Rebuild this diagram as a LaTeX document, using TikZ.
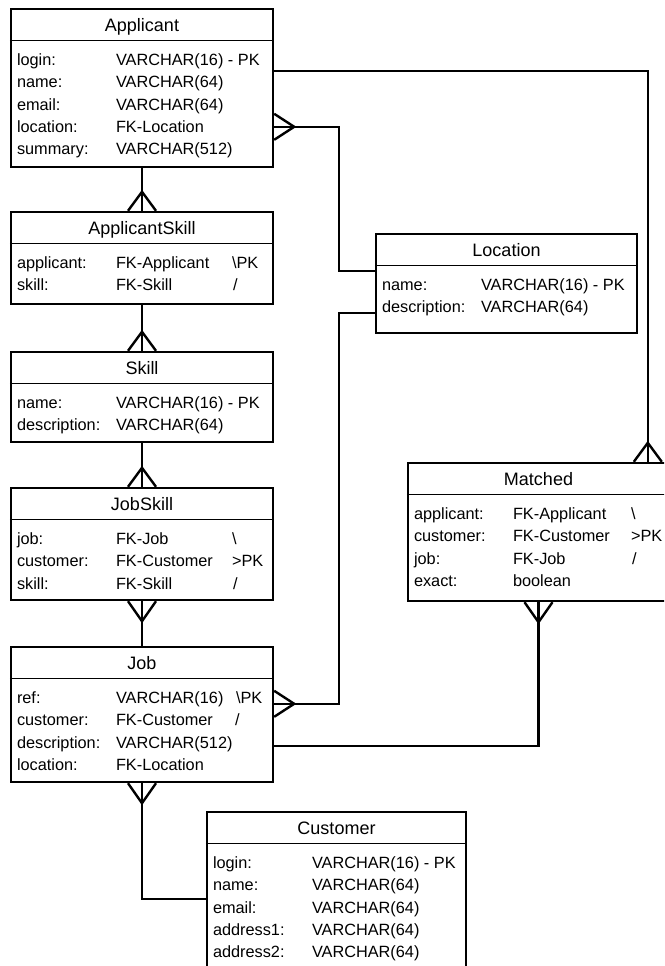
\documentclass[tikz,border=0pt]{standalone}
\usepackage{fontspec}
\setmainfont{Liberation Sans}
\usetikzlibrary{calc}

% one field row: box, row number, name, type, key column (offset of key column)
\newcommand\fld[6]{%
  \node[fieldtxt] (#1-#2a) at ($(#1.north west)+(7,{57.5+22.4*(#2-1)})$) {#3};
  \node[fieldtxt] (#1-#2b) at ($(#1.north west)+(106,{57.5+22.4*(#2-1)})$) {#4};
  \node[fieldtxt] (#1-#2c) at ($(#1.north west)+(#6,{57.5+22.4*(#2-1)})$) {#5};
}
% table frame with title and header rule
\newcommand\tbl[6]{%
  \node[table, minimum width=#4, minimum height=#5] (#1) at (#2,#3) {};
  \draw[rule] ($(#1.north west)+(0,33)$) -- ($(#1.north east)+(0,33)$);
  \node[titletxt] (#1-title) at ($(#1.north)+(0,23.5)$) {#6};
}

\tikzset{
  table/.style={draw, line width=2.4pt, inner sep=0pt, fill=white},
  rule/.style={line width=1pt},
  conn/.style={line width=2.4pt},
  fieldtxt/.style={anchor=base west, inner sep=0pt, font=\fontsize{16.3}{20}\selectfont},
  titletxt/.style={anchor=base, inner sep=0pt, font=\fontsize{18}{22}\selectfont},
  crowup/.pic={\draw[conn] (-14,0) -- (0,-19) -- (14,0);},
  crowdown/.pic={\draw[conn] (-14,0) -- (0,20) -- (14,0);},
  crowright/.pic={\draw[conn] (0,-13) -- (20,0) -- (0,13);},
}

\begin{document}
\begin{tikzpicture}[x=1pt,y=-1pt]
\useasboundingbox (0,0) rectangle (664,966);
\clip (0,0) rectangle (664,966);
\fill[white] (0,0) rectangle (664,966);

% ---- tables ----
\tbl{app}{142}{88}{262}{158}{Applicant}
\fld{app}{1}{login:}{VARCHAR(16) - PK}{}{222}
\fld{app}{2}{name:}{VARCHAR(64)}{}{222}
\fld{app}{3}{email:}{VARCHAR(64)}{}{222}
\fld{app}{4}{location:}{FK-Location}{}{222}
\fld{app}{5}{summary:}{VARCHAR(512)}{}{222}

\tbl{as}{142}{258}{262}{92}{ApplicantSkill}
\fld{as}{1}{applicant:}{FK-Applicant}{\textbackslash PK}{222}
\fld{as}{2}{skill:}{FK-Skill}{/}{223}

\tbl{sk}{142}{397}{262}{90}{Skill}
\fld{sk}{1}{name:}{VARCHAR(16) - PK}{}{222}
\fld{sk}{2}{description:}{VARCHAR(64)}{}{222}

\tbl{js}{142}{544}{262}{112}{JobSkill}
\fld{js}{1}{job:}{FK-Job}{\textbackslash}{222}
\fld{js}{2}{customer:}{FK-Customer}{>PK}{222}
\fld{js}{3}{skill:}{FK-Skill}{/}{223}

\tbl{job}{142}{714.5}{262}{135}{Job}
\fld{job}{1}{ref:}{VARCHAR(16)}{\textbackslash PK}{226}
\fld{job}{2}{customer:}{FK-Customer}{/}{225}
\fld{job}{3}{description:}{VARCHAR(512)}{}{222}
\fld{job}{4}{location:}{FK-Location}{}{222}

\tbl{loc}{506.5}{283.5}{261}{99}{Location}
\fld{loc}{1}{name:}{VARCHAR(16) - PK}{}{222}
\fld{loc}{2}{description:}{VARCHAR(64)}{}{222}

\tbl{mat}{538.5}{532}{261}{138}{Matched}
\fld{mat}{1}{applicant:}{FK-Applicant}{\textbackslash}{224}
\fld{mat}{2}{customer:}{FK-Customer}{>PK}{224}
\fld{mat}{3}{job:}{FK-Job}{/}{225}
\fld{mat}{4}{exact:}{boolean}{}{224}

\tbl{cust}{336.5}{894.5}{259}{165}{Customer}
\fld{cust}{1}{login:}{VARCHAR(16) - PK}{}{222}
\fld{cust}{2}{name:}{VARCHAR(64)}{}{222}
\fld{cust}{3}{email:}{VARCHAR(64)}{}{222}
\fld{cust}{4}{address1:}{VARCHAR(64)}{}{222}
\fld{cust}{5}{address2:}{VARCHAR(64)}{}{222}

% ---- attachment points on the frames ----
\coordinate (appLogin) at ($(app.north east)+(0,63)$);
\coordinate (appLoc)   at ($(app.north east)+(0,119)$);
\coordinate (locIn)    at ($(loc.north west)+(0,38)$);
\coordinate (locOut)   at ($(loc.north west)+(0,80)$);
\coordinate (jobRef)   at ($(job.north east)+(0,58)$);
\coordinate (jobDesc)  at ($(job.north east)+(0,100)$);
\coordinate (custIn)   at ($(cust.north west)+(0,88)$);
\coordinate (matTop)   at ($(mat.north west)+(241,0)$);
\coordinate (bus)      at (339,0);

% ---- relationships ----
\draw[conn] (app.south) -- (as.north);
\pic at (as.north) {crowup};

\draw[conn] (as.south) -- (sk.north);
\pic at (sk.north) {crowup};

\draw[conn] (sk.south) -- (js.north);
\pic at (js.north) {crowup};

\draw[conn] (js.south) -- (job.north);
\pic at (js.south) {crowdown};

\draw[conn] (job.south) |- (custIn);
\pic at (job.south) {crowdown};

\draw[conn] (appLogin) -| (matTop);
\pic at (matTop) {crowup};

\draw[conn] (appLoc) -- (appLoc -| bus) |- (locIn);
\pic at (appLoc) {crowright};

\draw[conn] (locOut) -- (locOut -| bus) |- (jobRef);
\pic at (jobRef) {crowright};

\draw[conn] (jobDesc) -| (mat.south);
\pic at (mat.south) {crowdown};
\end{tikzpicture}
\end{document}
